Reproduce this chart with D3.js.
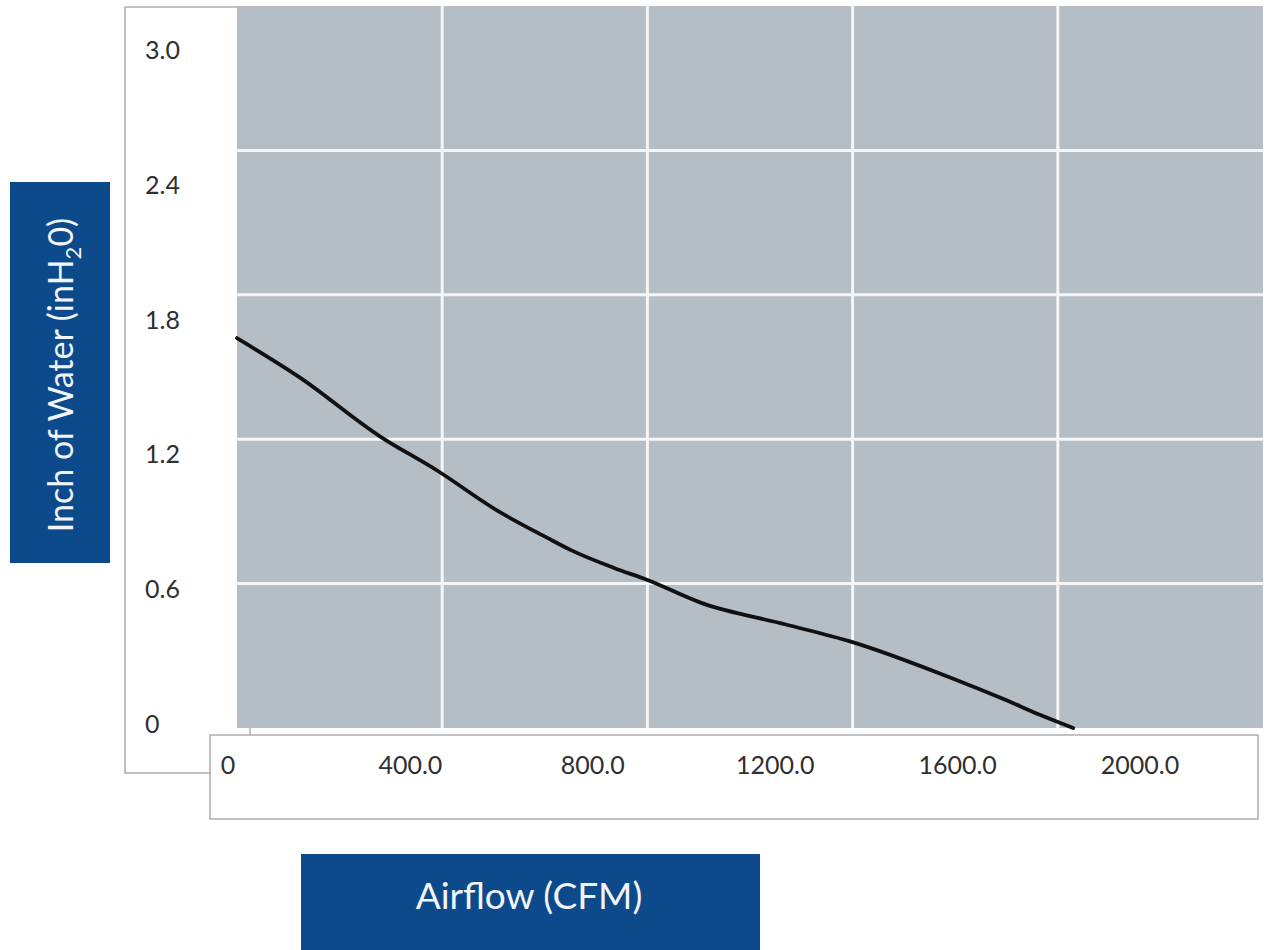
<html>
  <head>
    <meta charset="utf-8"/>
    <style>
      body {
        margin: 0;
        background: white;
      }
      text {
        font-family: Lato, "Open Sans", sans-serif;
      }
      .tick-label {
        font-size: 25px;
        fill: #2f2f2f;
      }
      .grid line {
        stroke: #f5f6f7;
        stroke-width: 3;
      }
      .frame {
        fill: white;
        stroke: #9a9a9a;
        stroke-width: 1.2;
      }
    </style>
    <script src="https://d3js.org/d3.v7.min.js"></script>
  </head>
  <body>
    <script>
    var width = 1269, height = 950;

    // curve (CFM vs inH2O)
    var airflow  = [0, 120, 280, 390, 510, 605, 650, 735, 800, 905, 1070, 1195, 1390, 1500, 1565, 1630];
    var pressure = [1.62, 1.46, 1.21, 1.07, 0.90, 0.79, 0.74, 0.665, 0.615, 0.52, 0.43, 0.36, 0.21, 0.115, 0.055, 0];

    var xTicks = [0, 400, 800, 1200, 1600, 2000];
    var xTickLabels = ["0", "400.0", "800.0", "1200.0", "1600.0", "2000.0"];
    var yTicks = [0, 0.6, 1.2, 1.8, 2.4, 3.0];
    var yTickLabels = ["0", "0.6", "1.2", "1.8", "2.4", "3.0"];

    var plot = {left: 237, right: 1263, top: 6, bottom: 728};

    var svg = d3.select("body").append("svg")
                .attr("width", width)
                .attr("height", height);

    var x = d3.scaleLinear().domain([0, 2000]).range([plot.left, plot.right]);
    var y = d3.scaleLinear().domain([0, 3]).range([plot.bottom, plot.top]);

    // the tick labels in the picture sit off the grid, so they get their own scales
    var xLab = d3.scaleLinear().domain([0, 2000]).range([228, 1140]);
    var yLab = d3.scaleLinear().domain([0, 3]).range([724, 50]);

    // white frame behind the y labels
    svg.append("rect").attr("class", "frame")
       .attr("x", 125).attr("y", 7)
       .attr("width", 125).attr("height", 766);

    // plot background
    svg.append("rect")
       .attr("x", plot.left).attr("y", plot.top)
       .attr("width", plot.right - plot.left)
       .attr("height", plot.bottom - plot.top)
       .attr("fill", "#b6bec5");

    var grid = svg.append("g").attr("class", "grid");
    grid.selectAll("line.v")
        .data(xTicks.slice(1, -1))
        .enter().append("line")
        .attr("class", "v")
        .attr("x1", d => x(d)).attr("x2", d => x(d))
        .attr("y1", plot.top).attr("y2", plot.bottom);
    grid.selectAll("line.h")
        .data(yTicks.slice(1, -1))
        .enter().append("line")
        .attr("class", "h")
        .attr("x1", plot.left).attr("x2", plot.right)
        .attr("y1", d => y(d)).attr("y2", d => y(d));

    var pts = airflow.map((a, i) => [a, pressure[i]]);
    var line = d3.line()
                 .x(d => x(d[0]))
                 .y(d => y(d[1]))
                 .curve(d3.curveMonotoneX);
    svg.append("path")
       .datum(pts)
       .attr("d", line)
       .attr("fill", "none")
       .attr("stroke", "#111")
       .attr("stroke-width", 3.8)
       .attr("stroke-linecap", "round");

    // x label box
    svg.append("rect").attr("class", "frame")
       .attr("x", 210).attr("y", 735)
       .attr("width", 1048).attr("height", 84);

    svg.selectAll("text.xt")
       .data(xTicks)
       .enter().append("text")
       .attr("class", "tick-label xt")
       .attr("x", d => xLab(d))
       .attr("y", 774)
       .attr("text-anchor", "middle")
       .text((d, i) => xTickLabels[i]);

    svg.selectAll("text.yt")
       .data(yTicks)
       .enter().append("text")
       .attr("class", "tick-label yt")
       .attr("x", 145)
       .attr("y", d => yLab(d) + 9)
       .text((d, i) => yTickLabels[i]);

    // axis title boxes
    var blue = "#0c4a8b";
    svg.append("rect")
       .attr("x", 10).attr("y", 182)
       .attr("width", 100).attr("height", 381)
       .attr("fill", blue);
    var yt = svg.append("text")
       .attr("transform", "translate(73,375) rotate(-90)")
       .attr("text-anchor", "middle")
       .attr("fill", "#f2f4f7")
       .style("font-size", "34px");
    yt.append("tspan").text("Inch of Water (inH");
    yt.append("tspan").attr("dy", 8).style("font-size", "22px").text("2");
    yt.append("tspan").attr("dy", -8).text("0)");

    svg.append("rect")
       .attr("x", 301).attr("y", 854)
       .attr("width", 459).attr("height", 96)
       .attr("fill", blue);
    svg.append("text")
       .attr("x", 529).attr("y", 909)
       .attr("text-anchor", "middle")
       .attr("fill", "#f2f4f7")
       .style("font-size", "37px")
       .text("Airflow (CFM)");
    </script>
  </body>
</html>
